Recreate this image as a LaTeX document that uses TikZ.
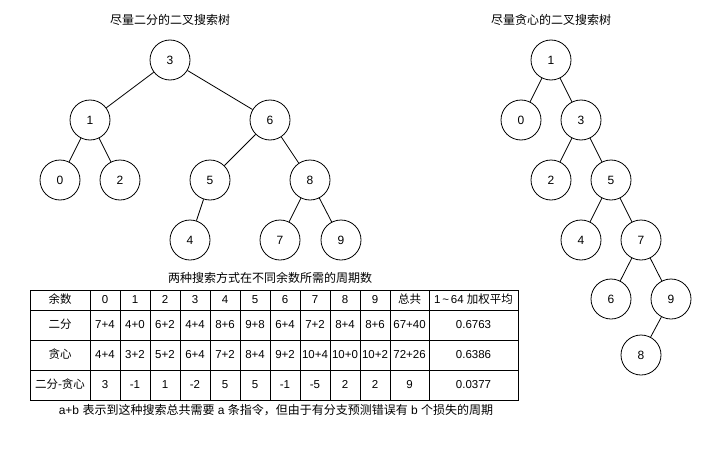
\documentclass[tikz,border=0pt]{standalone}
\usepackage{fontspec}
\setmainfont{Liberation Sans}
\newfontfamily\cjk{Noto Sans CJK SC}
\begin{document}
\begin{tikzpicture}[x=1pt,y=-1pt,
  every node/.style={font=\fontsize{12}{14}\selectfont},
  tn/.style={circle,draw,line width=0.8pt,minimum size=40pt,inner sep=0pt},
  edge/.style={line width=0.8pt},
  grid/.style={line width=0.8pt},
  cell/.style={inner sep=0pt,text height=9pt,text depth=2pt,font=\fontsize{11.5}{14}\selectfont}]
\useasboundingbox (0,0) rectangle (711,452);
% titles
\node (t1) at (170,20) {\cjk 尽量二分的二叉搜索树};
\node (t2) at (551,20) {\cjk 尽量贪心的二叉搜索树};
% left tree
\node[tn] (a3) at (170,60) {3};
\node[tn] (a1) at (90,120) {1};
\node[tn] (a6) at (270,120) {6};
\node[tn] (a0) at (60,180) {0};
\node[tn] (a2) at (120,180) {2};
\node[tn] (a5) at (210,180) {5};
\node[tn] (a8) at (310,180) {8};
\node[tn] (a4) at (190,240) {4};
\node[tn] (a7) at (280,240) {7};
\node[tn] (a9) at (341,240) {9};
\draw[edge] (a3)--(a1) (a3)--(a6) (a1)--(a0) (a1)--(a2) (a6)--(a5) (a6)--(a8)
  (a5)--(a4) (a8)--(a7) (a8)--(a9);
% right tree
\node[tn] (b1) at (551,60) {1};
\node[tn] (b0) at (521,120) {0};
\node[tn] (b3) at (581,120) {3};
\node[tn] (b2) at (551,180) {2};
\node[tn] (b5) at (611,180) {5};
\node[tn] (b4) at (581,240) {4};
\node[tn] (b7) at (641,240) {7};
\node[tn] (b6) at (611,299) {6};
\node[tn] (b9) at (671,299) {9};
\node[tn] (b8) at (641,355) {8};
\draw[edge] (b1)--(b0) (b1)--(b3) (b3)--(b2) (b3)--(b5) (b5)--(b4) (b5)--(b7)
  (b7)--(b6) (b7)--(b9) (b9)--(b8);
% table
\node (tt) at (270,278) {\cjk 两种搜索方式在不同余数所需的周期数};
\draw[grid] (30,290) rectangle (518,400);
\foreach \yy in {310,340,370} \draw[grid] (30,\yy) -- (518,\yy);
\foreach \xx in {90,120,150,180,210,240,270,300,330,360,390,429} \draw[grid] (\xx,290) -- (\xx,400);
% header
\node[cell] (h0) at (60,300) {\cjk 余数};
\foreach \t [count=\i] in {0,1,2,3,4,5,6,7,8,9}
  \node[cell] (h\i) at (75+30*\i,300) {\t};
\node[cell] (h11) at (409.5,300) {\cjk 总共};
\node[cell] (h12) at (473.5,300) {1\,\textasciitilde\,64 {\cjk 加权平均}};
% row 2
\node[cell] (r0) at (60,325) {\cjk 二分};
\foreach \t [count=\i] in {7+4,4+0,6+2,4+4,8+6,9+8,6+4,7+2,8+4,8+6}
  \node[cell] (r\i) at (75+30*\i,325) {\t};
\node[cell] (r11) at (409.5,325) {67+40};
\node[cell] (r12) at (473.5,325) {0.6763};
% row 3
\node[cell] (s0) at (60,355) {\cjk 贪心};
\foreach \t [count=\i] in {4+4,3+2,5+2,6+4,7+2,8+4,9+2,10+4,10+0,10+2}
  \node[cell] (s\i) at (75+30*\i,355) {\t};
\node[cell] (s11) at (409.5,355) {72+26};
\node[cell] (s12) at (473.5,355) {0.6386};
% row 4
\node[cell] (d0) at (60,385) {\cjk 二分-贪心};
\foreach \t [count=\i] in {3,-1,1,-2,5,5,-1,-5,2,2}
  \node[cell] (d\i) at (75+30*\i,385) {\t};
\node[cell] (d11) at (409.5,385) {9};
\node[cell] (d12) at (473.5,385) {0.0377};
% note
\node (nt) at (276,410) {a+b {\cjk 表示到这种搜索总共需要} a {\cjk 条指令，但由于有分支预测错误有} b {\cjk 个损失的周期}};
\end{tikzpicture}
\end{document}
